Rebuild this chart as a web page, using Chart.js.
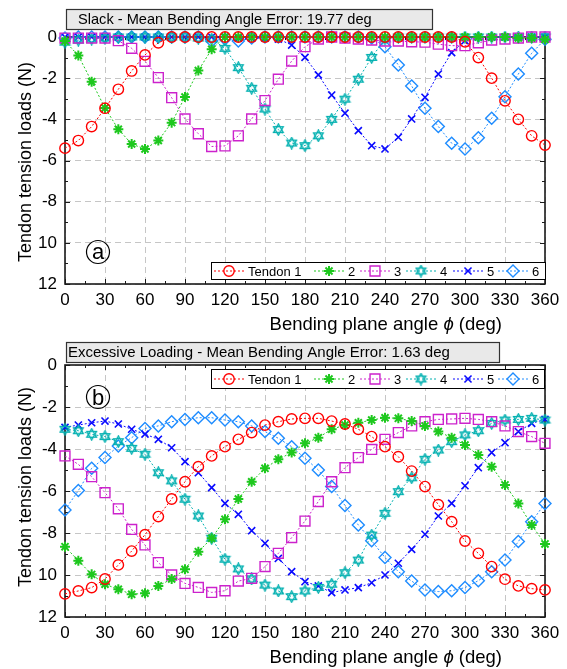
<!DOCTYPE html>
<html>
<head>
<meta charset="utf-8">
<script src="https://cdn.jsdelivr.net/npm/chart.js@4.4.1/dist/chart.umd.min.js"></script>
<style>
  html, body { margin: 0; padding: 0; background: #fff; }
  #wrap { position: relative; width: 567px; height: 669px; }
  canvas { position: absolute; left: 0; }
</style>
</head>
<body>
<div id="wrap">
  <canvas id="slackChart" width="567" height="335" style="top:0px"></canvas>
  <canvas id="loadChart" width="567" height="334" style="top:335px"></canvas>
</div>
<script>
// bending plane angles (deg)
const angles = [0, 10, 20, 30, 40, 50, 60, 70, 80, 90, 100, 110, 120, 130, 140, 150, 160, 170, 180,
    190, 200, 210, 220, 230, 240, 250, 260, 270, 280, 290, 300, 310, 320, 330, 340, 350, 360];

const tendonLabels = ['Tendon 1', '2', '3', '4', '5', '6'];
const yTickLabels = ['12', '10', '-8', '-6', '-4', '-2', '0']; // for -12 .. 0

// (a) Slack
const slackT1 = [-5.4, -5.03, -4.35, -3.46, -2.54, -1.65, -0.87, -0.28, 0, 0, 0, 0, 0, 0, 0, 0, 0, 0, 0,
    0, 0, 0, 0, 0, 0, 0, 0, 0, 0, 0, -0.23, -1.0, -2.0, -3.1, -4.0, -4.8, -5.25];
const slackT2 = [-0.2, -0.9, -2.17, -3.45, -4.48, -5.2, -5.44, -5.03, -4.16, -2.92, -1.63, -0.6, 0, 0, 0, 0, 0, 0, 0,
    0, 0, 0, 0, 0, 0, 0, 0, 0, 0, 0, 0, 0, 0, 0, -0.05, -0.05, -0.12];
const slackT3 = [-0.05, -0.05, -0.05, -0.05, -0.18, -0.55, -1.18, -1.97, -2.95, -3.98, -4.7, -5.32, -5.29, -4.8, -3.98, -3.09, -2.05, -1.17, -0.47,
    -0.1, 0, -0.05, -0.1, -0.15, -0.2, -0.2, -0.23, -0.25, -0.35, -0.42, -0.42, -0.28, -0.15, -0.1, -0.05, 0, 0];
const slackT4 = [-0.25, -0.15, -0.1, -0.05, 0, 0, 0, 0, 0, 0, -0.05, -0.1, -0.55, -1.49, -2.49, -3.5, -4.5, -5.15, -5.28,
    -4.8, -4.0, -3.02, -2.05, -0.99, -0.1, 0, 0, 0, 0, 0, 0, 0, 0, 0, 0, 0, 0];
const slackT5 = [0, 0, 0, 0, 0, 0, 0, 0, 0, 0, 0, 0, 0, -0.05, -0.05, -0.05, -0.1, -0.39, -0.99,
    -1.84, -2.82, -3.7, -4.55, -5.28, -5.44, -4.87, -3.98, -2.93, -1.8, -0.76, -0.18, 0, 0, 0, 0, 0, 0];
const slackT6 = [-0.05, 0, 0, 0, 0, 0, 0, 0, 0, 0, 0, -0.2, -0.1, -0.2, -0.05, 0, 0, 0, 0,
    0, 0, 0, 0, -0.05, -0.47, -1.36, -2.38, -3.46, -4.35, -5.16, -5.44, -4.89, -3.95, -2.9, -1.8, -0.79, -0.11];

// (b) Excessive loading
const loadT1 = [-10.9, -10.76, -10.6, -10.19, -9.52, -8.86, -8.08, -7.22, -6.38, -5.56, -4.84, -4.33, -3.89, -3.54, -3.22, -2.86, -2.7, -2.57, -2.54,
    -2.54, -2.67, -2.81, -3.06, -3.41, -3.89, -4.37, -5.05, -5.79, -6.65, -7.46, -8.38, -8.97, -9.6, -10.2, -10.52, -10.65, -10.71];
const loadT2 = [-8.65, -9.32, -9.97, -10.44, -10.68, -10.92, -10.87, -10.52, -10.19, -9.73, -8.89, -8.25, -7.35, -6.38, -5.56, -4.92, -4.49, -4.17, -3.73,
    -3.46, -3.06, -2.86, -2.75, -2.62, -2.51, -2.54, -2.67, -2.9, -3.17, -3.46, -3.81, -4.29, -4.84, -5.71, -6.6, -7.62, -8.52];
const loadT3 = [-4.33, -4.73, -5.32, -6.08, -6.85, -7.83, -8.57, -9.41, -10.0, -10.4, -10.59, -10.83, -10.75, -10.29, -10.16, -9.6, -8.97, -8.22, -7.43,
    -6.5, -5.56, -4.89, -4.41, -4.02, -3.54, -3.22, -2.9, -2.7, -2.59, -2.57, -2.54, -2.59, -2.7, -2.9, -3.17, -3.41, -3.73];
const loadT4 = [-3.06, -3.13, -3.3, -3.41, -3.65, -3.97, -4.25, -5.13, -5.52, -6.39, -7.19, -8.25, -9.25, -9.71, -10.19, -10.48, -10.76, -11.03, -10.76,
    -10.59, -10.44, -9.89, -9.29, -8.1, -7.06, -6.03, -5.37, -4.49, -4.05, -3.65, -3.33, -3.13, -2.78, -2.62, -2.59, -2.54, -2.62];
const loadT5 = [-2.97, -2.86, -2.75, -2.67, -2.81, -3.06, -3.29, -3.54, -3.94, -4.6, -5.13, -5.84, -6.59, -7.11, -7.89, -8.49, -9.21, -9.84, -10.32,
    -10.52, -10.84, -10.71, -10.6, -10.37, -10.0, -9.44, -8.78, -8.06, -7.19, -6.59, -5.75, -4.89, -4.17, -3.7, -3.17, -2.78, -2.59];
const loadT6 = [-6.9, -5.98, -4.92, -4.41, -3.86, -3.46, -3.02, -2.9, -2.7, -2.59, -2.51, -2.51, -2.62, -2.7, -2.9, -3.17, -3.49, -3.89, -4.44,
    -5.0, -5.79, -6.69, -7.62, -8.37, -9.17, -9.84, -10.29, -10.71, -10.79, -10.75, -10.6, -10.27, -9.84, -9.29, -8.41, -7.46, -6.59];

const FONT = "'Liberation Sans', Arial, Helvetica, sans-serif";

function hexagramImage(color) {
    const c = document.createElement('canvas');
    c.width = 13;
    c.height = 13;
    const g = c.getContext('2d');
    g.strokeStyle = color;
    g.lineWidth = 1.3;
    [-Math.PI / 2, Math.PI / 2].forEach(off => {
        g.beginPath();
        for (let k = 0; k < 3; k++) {
            const a = off + k * 2 * Math.PI / 3;
            const px = 6.5 + 5.6 * Math.cos(a), py = 6.5 + 5.6 * Math.sin(a);
            if (k === 0) g.moveTo(px, py); else g.lineTo(px, py);
        }
        g.closePath();
        g.stroke();
    });
    return c;
}

const tendonColors = ['#ff0000', '#1ec81e', '#cc22cc', '#00b0b0', '#0a0aff', '#1e8cff'];
const tendonMarkers = ['circle', 'star', 'rect', hexagramImage('#00b0b0'), 'crossRot', 'rectRot'];
const markerRadius = [5.2, 5, 7, 6, 5, 6];
const markerWidth = [1.4, 2, 1.4, 1.3, 1.6, 1.4];

function makeDatasets(series) {
    return series.map((values, i) => ({
        label: tendonLabels[i],
        data: values.map((v, k) => ({ x: angles[k], y: v })),
        borderColor: tendonColors[i],
        backgroundColor: 'rgba(0,0,0,0)',
        borderWidth: 1,
        borderDash: [2, 2],
        pointStyle: tendonMarkers[i],
        pointRadius: markerRadius[i],
        pointBorderWidth: markerWidth[i],
        pointBorderColor: tendonColors[i],
        pointBackgroundColor: 'rgba(0,0,0,0)',
        tension: 0,
        clip: false
    }));
}

//#region frame, legend and labels
function framePlugin(panel) {
    return {
        id: 'frame',
        beforeDatasetsDraw(chart) {
            const ctx = chart.ctx;
            const a = chart.chartArea;
            const xs = chart.scales.x, ys = chart.scales.y;
            ctx.save();
            ctx.strokeStyle = '#1a1a1a';
            ctx.lineWidth = 1;
            ctx.beginPath();
            for (let v = 0; v <= 360; v += 15) {
                const px = Math.round(xs.getPixelForValue(v)) + 0.5;
                const len = v % 30 === 0 ? 5 : 3;
                ctx.moveTo(px, a.bottom); ctx.lineTo(px, a.bottom - len);
                ctx.moveTo(px, a.top); ctx.lineTo(px, a.top + len);
            }
            for (let v = -12; v <= 0; v += 1) {
                const py = Math.round(ys.getPixelForValue(v)) + 0.5;
                const len = v % 2 === 0 ? 5 : 3;
                ctx.moveTo(a.left, py); ctx.lineTo(a.left + len, py);
                ctx.moveTo(a.right, py); ctx.lineTo(a.right - len, py);
            }
            ctx.stroke();
            ctx.lineWidth = 1.6;
            ctx.strokeRect(a.left, a.top, a.right - a.left, a.bottom - a.top);
            ctx.restore();
        },
        afterDraw(chart) {
            const ctx = chart.ctx;
            const a = chart.chartArea;
            ctx.save();

            // title box
            const tb = panel.titleBox;
            ctx.fillStyle = '#e9e9e9';
            ctx.fillRect(tb.x, tb.y, tb.w, tb.h);
            ctx.strokeStyle = '#333';
            ctx.lineWidth = 1.2;
            ctx.strokeRect(tb.x + 0.5, tb.y + 0.5, tb.w, tb.h);
            ctx.fillStyle = '#000';
            ctx.font = tb.size + 'px ' + FONT;
            ctx.textBaseline = 'middle';
            ctx.textAlign = 'left';
            ctx.fillText(panel.title, tb.x + tb.pad, tb.y + tb.h / 2 + 1);

            // legend
            const lg = panel.legend;
            ctx.fillStyle = '#fff';
            ctx.fillRect(lg.x, lg.y, lg.w, lg.h);
            ctx.strokeStyle = '#000';
            ctx.lineWidth = 1;
            ctx.strokeRect(lg.x + 0.5, lg.y + 0.5, lg.w, lg.h);
            const cy = lg.y + lg.h / 2 + 0.5;
            ctx.font = '13px ' + FONT;
            chart.data.datasets.forEach((ds, i) => {
                const mx = lg.markerX[i];
                ctx.strokeStyle = ds.borderColor;
                ctx.lineWidth = 1;
                ctx.setLineDash([2, 2]);
                ctx.beginPath();
                ctx.moveTo(mx - 15, cy);
                ctx.lineTo(mx + 15, cy);
                ctx.stroke();
                ctx.setLineDash([]);
                ctx.fillStyle = 'rgba(0,0,0,0)';
                ctx.lineWidth = ds.pointBorderWidth;
                Chart.helpers.drawPoint(ctx, {
                    pointStyle: ds.pointStyle, rotation: 0,
                    radius: ds.pointRadius, borderWidth: ds.pointBorderWidth
                }, mx, cy);
                ctx.fillStyle = '#000';
                ctx.fillText(ds.label, mx + 19, cy + 1);
            });

            // circled panel letter
            const lt = panel.letter;
            ctx.strokeStyle = '#000';
            ctx.lineWidth = 1.2;
            ctx.beginPath();
            ctx.arc(lt.x, lt.y, 11.5, 0, Math.PI * 2);
            ctx.stroke();
            ctx.fillStyle = '#000';
            ctx.font = '22px ' + FONT;
            ctx.textAlign = 'center';
            ctx.textBaseline = 'alphabetic';
            ctx.fillText(lt.text, lt.x, lt.y + lt.base);

            // x axis title
            const tf = '18.5px ' + FONT;
            ctx.font = tf;
            ctx.textAlign = 'left';
            ctx.textBaseline = 'middle';
            const p1 = 'Bending plane angle ', p2 = '\u03D5', p3 = ' (deg)';
            const w1 = ctx.measureText(p1).width, w3 = ctx.measureText(p3).width;
            ctx.font = 'italic ' + tf;
            const w2 = ctx.measureText(p2).width;
            const tx = 502 - (w1 + w2 + w3);
            const ty = a.bottom + 41;
            ctx.font = tf;
            ctx.fillText(p1, tx, ty);
            ctx.font = 'italic ' + tf;
            ctx.fillText(p2, tx + w1, ty);
            ctx.font = tf;
            ctx.fillText(p3, tx + w1 + w2, ty);

            // y axis title
            ctx.font = '18px ' + FONT;
            ctx.translate(26, panel.yTitleY);
            ctx.rotate(-Math.PI / 2);
            ctx.textAlign = 'center';
            ctx.fillText('Tendon tension loads (N)', 0, 0);
            ctx.restore();
        }
    };
}
//#endregion

function makeConfig(series, panel) {
    return {
        type: 'line',
        data: { datasets: makeDatasets(series) },
        options: {
            responsive: false,
            animation: false,
            events: [],
            layout: { padding: { top: panel.top, right: 22, bottom: 0, left: 0 } },
            plugins: {
                legend: { display: false },
                tooltip: { enabled: false }
            },
            scales: {
                x: {
                    type: 'linear',
                    min: 0,
                    max: 360,
                    ticks: {
                        stepSize: 30,
                        autoSkip: false,
                        maxRotation: 0,
                        padding: 6,
                        color: '#000',
                        font: { family: FONT, size: 17 }
                    },
                    grid: { color: '#c6c6c6', lineWidth: 1, drawTicks: false },
                    border: { display: false, dash: [6, 4] },
                    afterFit: s => { s.height = panel.xAxisHeight; }
                },
                y: {
                    min: -12,
                    max: 0,
                    ticks: {
                        stepSize: 2,
                        padding: 8,
                        color: '#000',
                        font: { family: FONT, size: 17 },
                        callback: v => yTickLabels[Math.round((v + 12) / 2)]
                    },
                    grid: { color: '#c6c6c6', lineWidth: 1, drawTicks: false },
                    border: { display: false, dash: [6, 4] },
                    afterFit: s => { s.width = 65; }
                }
            }
        },
        plugins: [framePlugin(panel)]
    };
}

const legendMarkers = [229, 329, 375, 421, 468, 513];

new Chart(document.getElementById('slackChart'), makeConfig(
    [slackT1, slackT2, slackT3, slackT4, slackT5, slackT6],
    {
        top: 37,
        xAxisHeight: 51,
        title: 'Slack - Mean Bending Angle Error: 19.77 deg',
        titleBox: { x: 66, y: 9, w: 366, h: 20, pad: 12, size: 14.6 },
        legend: { x: 211, y: 262, w: 334, h: 17, markerX: legendMarkers },
        letter: { text: 'a', x: 98, y: 252, base: 6.5 },
        yTitleY: 162
    }
));

new Chart(document.getElementById('loadChart'), makeConfig(
    [loadT1, loadT2, loadT3, loadT4, loadT5, loadT6],
    {
        top: 30,
        xAxisHeight: 52,
        title: 'Excessive Loading - Mean Bending Angle Error: 1.63 deg',
        titleBox: { x: 66, y: 7, w: 433, h: 20, pad: 2, size: 15 },
        legend: { x: 211, y: 34, w: 333, h: 19, markerX: legendMarkers },
        letter: { text: 'b', x: 98, y: 62, base: 8 },
        yTitleY: 152
    }
));
</script>
</body>
</html>
